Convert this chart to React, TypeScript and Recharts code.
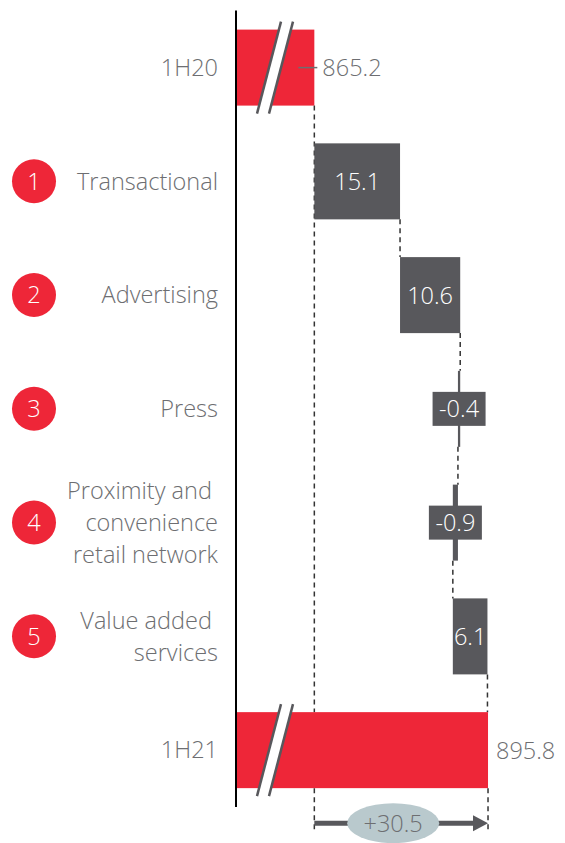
import React from 'react';
import { BarChart, Bar, XAxis, YAxis } from 'recharts';

const categories = ['1H20', 'Transactional', 'Advertising', 'Press', 'Proximity', 'Value added', '1H21'];
const categoryLines = [
  ['1H20'],
  ['Transactional'],
  ['Advertising'],
  ['Press'],
  ['Proximity and\u00a0', 'convenience', 'retail network'],
  ['Value added\u00a0', 'services'],
  ['1H21'],
];
const badgeNumbers = [null, 1, 2, 3, 4, 5, null];
const kinds = ['total', 'delta', 'delta', 'delta', 'delta', 'delta', 'total'];
const values = [865.2, 15.1, 10.6, -0.4, -0.9, 6.1, 895.8];
const valueLabels = ['865.2', '15.1', '10.6', '-0.4', '-0.9', '6.1', '895.8'];
const totalChangeLabel = '+30.5';
const axisMin = 851.4;
const axisMax = 907.6;

const RED = '#ee2638';
const GREY = '#58585c';
const TEXT = '#6d6e71';
const DASH = '#333333';
const BUBBLE = '#b9c9cd';

const CHART_W = 565;
const CHART_H = 843;
const MARGIN = { top: 10.6, right: 10, bottom: 36.1, left: 0 };
const BAND = (CHART_H - MARGIN.top - MARGIN.bottom) / categories.length;

type Row = {
  name: string;
  kind: string;
  value: number;
  label: string;
  start: number;
  end: number;
  range: [number, number];
};

const data: Row[] = (() => {
  let running = 0;
  return categories.map((name, i) => {
    const kind = kinds[i];
    let start: number;
    let end: number;
    if (kind === 'total') {
      start = axisMin;
      end = values[i];
    } else {
      start = running;
      end = running + values[i];
    }
    running = end;
    return {
      name,
      kind,
      value: values[i],
      label: valueLabels[i],
      start,
      end,
      range: [Math.min(start, end), Math.max(start, end)] as [number, number],
    };
  });
})();

const FONT = 23.5;

const CategoryTick = (props: any) => {
  const { y, payload } = props;
  const i = categories.indexOf(payload.value);
  const lines = categoryLines[i] || [String(payload.value)];
  const lh = 32;
  const top = y - ((lines.length - 1) * lh) / 2;
  const badge = badgeNumbers[i];
  return (
    <g>
      {badge != null && (
        <g>
          <circle cx={34} cy={y} r={22} fill={RED} />
          <text x={34} y={y} dy="0.36em" textAnchor="middle" fill="#ffffff" fontSize={FONT}>
            {badge}
          </text>
        </g>
      )}
      <text textAnchor="end" fontSize={FONT} fill={TEXT} style={{ whiteSpace: 'pre' }}>
        {lines.map((l, k) => (
          <tspan key={k} x={218} y={top + k * lh} dy="0.36em">
            {l}
          </tspan>
        ))}
      </text>
    </g>
  );
};

const BreakMark = ({ cx, top, bottom }: { cx: number; top: number; bottom: number }) => {
  const slope = 24 / 92;
  const cy = (top + bottom) / 2;
  const offTop = (cy - top) * slope;
  const offBot = (bottom - cy) * slope;
  const w = 12;
  const a1 = [cx - w / 2 + offTop, top];
  const b1 = [cx - w / 2 - offBot, bottom];
  const a2 = [cx + w / 2 + offTop, top];
  const b2 = [cx + w / 2 - offBot, bottom];
  return (
    <g>
      <polygon
        points={`${a1[0]},${a1[1]} ${a2[0]},${a2[1]} ${b2[0]},${b2[1]} ${b1[0]},${b1[1]}`}
        fill="#ffffff"
      />
      <line x1={a1[0]} y1={a1[1]} x2={b1[0]} y2={b1[1]} stroke={GREY} strokeWidth={2.5} />
      <line x1={a2[0]} y1={a2[1]} x2={b2[0]} y2={b2[1]} stroke={GREY} strokeWidth={2.5} />
    </g>
  );
};

const WaterfallShape = (props: any) => {
  const { x, y, width, height, payload } = props;
  const row: Row = payload;
  const i = categories.indexOf(row.name);
  const gap = BAND - height;
  const fill = row.kind === 'total' ? RED : GREY;
  const cy = y + height / 2;
  const endX = row.end >= row.start ? x + width : x;
  const els: React.ReactNode[] = [];

  if (i < categories.length - 1) {
    const extra = i === 0 ? (categories.length - 2) * BAND : 0;
    els.push(
      <line
        key="conn"
        x1={endX}
        y1={y + height}
        x2={endX}
        y2={y + height + gap + extra}
        stroke={DASH}
        strokeWidth={1.5}
        strokeDasharray="5 4"
      />
    );
  }

  els.push(<rect key="bar" x={x} y={y} width={Math.max(width, 0.5)} height={height} fill={fill} />);

  if (row.kind === 'total') {
    const ppu = width / (row.end - axisMin);
    els.push(<BreakMark key="brk" cx={x + 39} top={y - 8} bottom={y + height + 8} />);
    if (i === 0) {
      els.push(
        <line key="lead" x1={endX - 16} y1={cy} x2={endX + 3} y2={cy} stroke={TEXT} strokeWidth={1.5} />
      );
    }
    els.push(
      <text key="lbl" x={endX + 8} y={cy} dy="0.36em" fontSize={FONT} fill={TEXT}>
        {row.label}
      </text>
    );
    if (i === categories.length - 1) {
      const x1 = x + (data[0].end - axisMin) * ppu;
      const x2 = x + width;
      const ay = y + height + 35;
      const mid = (x1 + x2) / 2 - 8;
      els.push(
        <g key="arrow">
          <line x1={x1} y1={y + height} x2={x1} y2={ay + 8} stroke={DASH} strokeWidth={1.5} strokeDasharray="5 4" />
          <line x1={x2} y1={y + height} x2={x2} y2={ay + 8} stroke={DASH} strokeWidth={1.5} strokeDasharray="5 4" />
          <line x1={x1} y1={ay} x2={x2 - 12} y2={ay} stroke={GREY} strokeWidth={5} />
          <polygon points={`${x2 - 15},${ay - 8} ${x2},${ay} ${x2 - 15},${ay + 8}`} fill={GREY} />
          <ellipse cx={mid} cy={ay} rx={46} ry={20} fill={BUBBLE} />
          <text x={mid} y={ay} dy="0.36em" textAnchor="middle" fontSize={FONT} fill={TEXT}>
            {totalChangeLabel}
          </text>
        </g>
      );
    }
  } else {
    const bx = x + width / 2;
    if (width < 20) {
      els.push(<rect key="box" x={bx - 26.5} y={cy - 17} width={53} height={34} fill={GREY} />);
    }
    els.push(
      <text key="lbl" x={bx} y={cy} dy="0.36em" textAnchor="middle" fontSize={FONT} fill="#ffffff">
        {row.label}
      </text>
    );
  }
  return <g>{els}</g>;
};

export default function App() {
  return (
    <div
      style={{
        position: 'absolute',
        left: 0,
        top: 0,
        width: CHART_W,
        height: CHART_H,
        background: '#ffffff',
        fontFamily: '"Open Sans", "Noto Sans", sans-serif',
        fontWeight: 300,
      }}
    >
      <BarChart width={CHART_W} height={CHART_H} layout="vertical" data={data} margin={MARGIN}>
        <XAxis type="number" hide domain={[axisMin, axisMax]} allowDataOverflow />
        <YAxis
          type="category"
          dataKey="name"
          width={236}
          axisLine={{ stroke: '#000000', strokeWidth: 2 }}
          tickLine={false}
          tick={<CategoryTick />}
          interval={0}
        />
        <Bar dataKey="range" barSize={76} isAnimationActive={false} shape={<WaterfallShape />} />
      </BarChart>
    </div>
  );
}
